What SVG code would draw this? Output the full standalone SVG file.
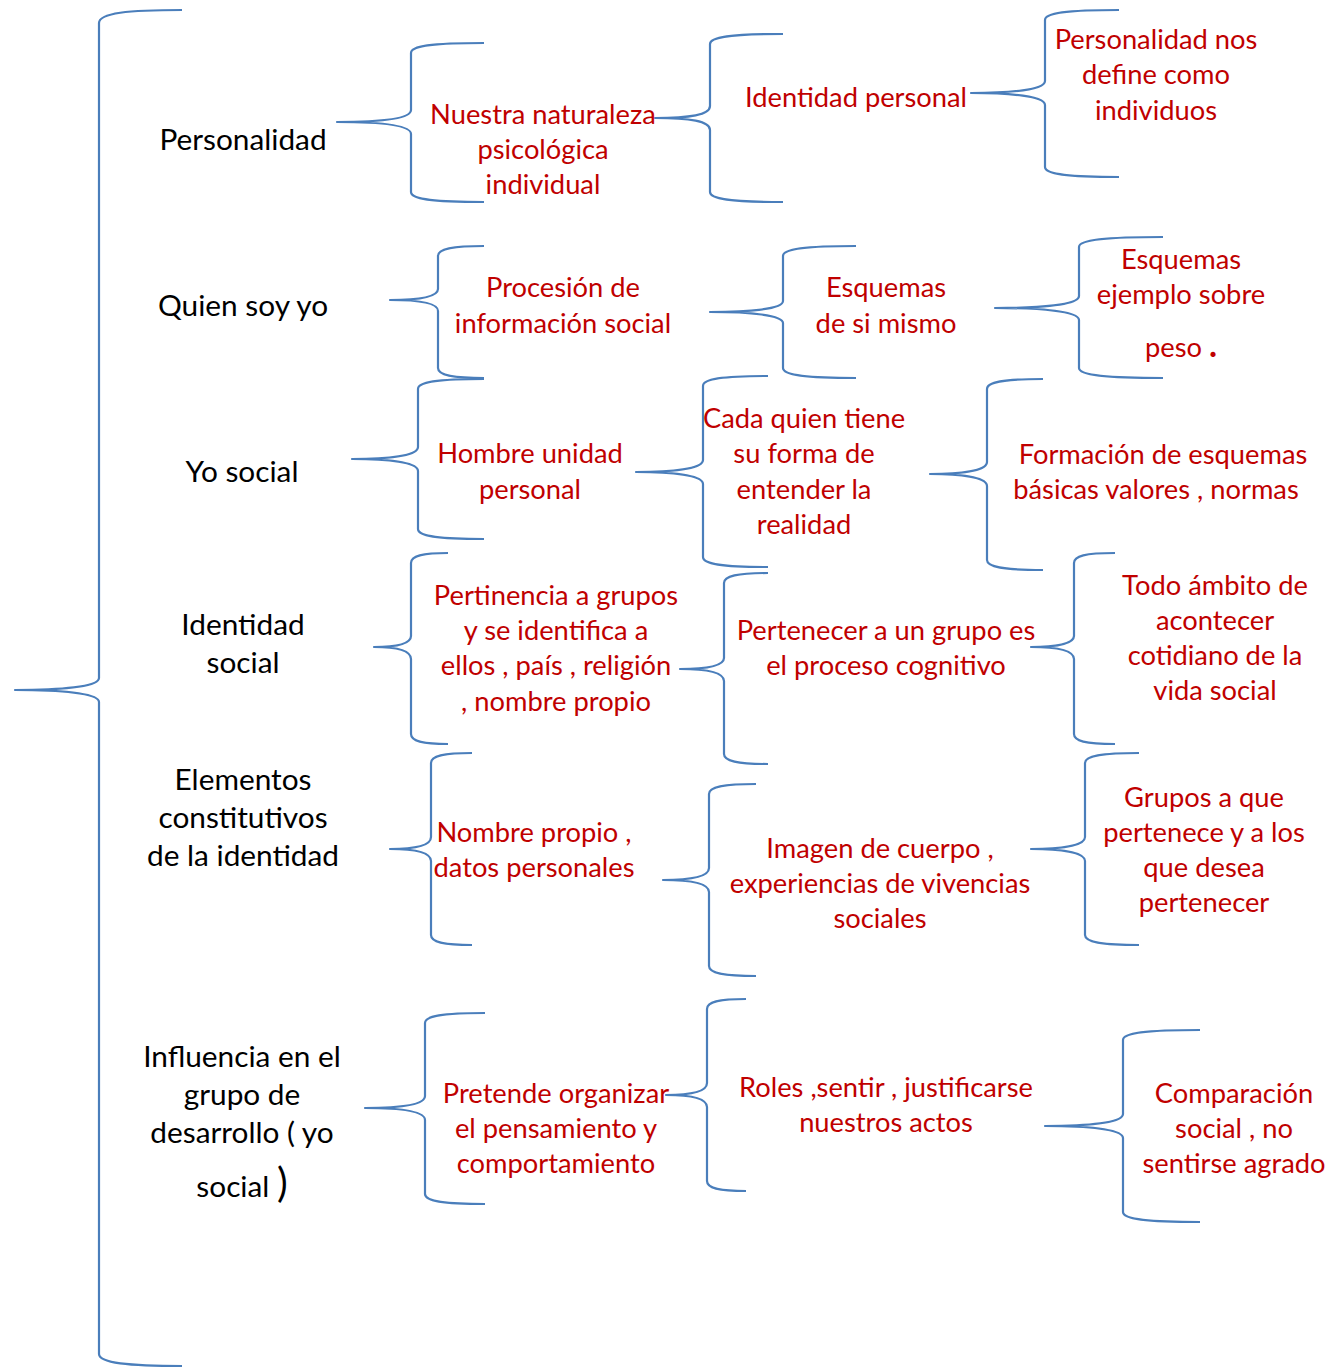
<svg xmlns="http://www.w3.org/2000/svg" width="1336" height="1368" viewBox="0 0 1336 1368">
<style>
.br{fill:none;stroke:#4A7EBB;stroke-width:2.2;stroke-linejoin:round;stroke-linecap:butt}
.k{font-family:Lato,"Open Sans","Liberation Sans",sans-serif;font-size:29.8px;fill:#000;text-anchor:middle}
.r{font-family:Lato,"Open Sans","Liberation Sans",sans-serif;font-size:27.3px;fill:#C00000;text-anchor:middle}
</style>
<rect width="1336" height="1368" fill="#fff"/>
<g id="connectors">
<path class="br" d="M182,10 C128,10 99,13 99,23 L99,678 C99,687 60,690 15,690 C60,690 99,693 99,702 L99,1354 C99,1363 128,1366 182,1366"/>
<path class="br" d="M484,43 C430,43 411,46 411,53 L411,110 C411,119 380,122 337,122 C380,122 411,125 411,134 L411,192 C411,199 430,202 484,202"/>
<path class="br" d="M783,34 C730,34 710,37 710,44 L710,106 C710,115 690,118 655,118 C690,118 710,121 710,130 L710,192 C710,199 730,202 783,202"/>
<path class="br" d="M1119,10 C1066,10 1045,13 1045,20 L1045,81 C1045,90 1010,93 971,93 C1010,93 1045,96 1045,105 L1045,167 C1045,174 1066,177 1119,177"/>
<path class="br" d="M484,246 C452,246 438,249 438,256 L438,289 C438,297 418,300 390,300 C418,300 438,303 438,311 L438,368 C438,375 452,378 484,378"/>
<path class="br" d="M856,246 C805,246 783,249 783,256 L783,301 C783,309 750,312 710,312 C750,312 783,315 783,323 L783,368 C783,375 805,378 856,378"/>
<path class="br" d="M1163,237 C1105,237 1079,240 1079,247 L1079,296 C1079,305 1040,308 995,308 C1040,308 1079,311 1079,320 L1079,368 C1079,375 1105,378 1163,378"/>
<path class="br" d="M484,379 C436,379 418,382 418,389 L418,447 C418,456 388,459 352,459 C388,459 418,462 418,471 L418,529 C418,536 436,539 484,539"/>
<path class="br" d="M768,376 C721,376 703,379 703,386 L703,460 C703,469 672,472 636,472 C672,472 703,475 703,484 L703,557 C703,564 721,567 768,567"/>
<path class="br" d="M1043,379 C1003,379 987,382 987,389 L987,462 C987,471 960,474 930,474 C960,474 987,477 987,486 L987,560 C987,567 1003,570 1043,570"/>
<path class="br" d="M448,553 C422,553 411,556 411,563 L411,636 C411,644 395,647 374,647 C395,647 411,650 411,659 L411,734 C411,741 422,744 448,744"/>
<path class="br" d="M768,573 C737,573 724,576 724,583 L724,658 C724,666 705,669 680,669 C705,669 724,672 724,681 L724,754 C724,761 737,764 768,764"/>
<path class="br" d="M1115,553 C1085,553 1074,556 1074,563 L1074,636 C1074,644 1055,647 1031,647 C1055,647 1074,650 1074,659 L1074,734 C1074,741 1085,744 1115,744"/>
<path class="br" d="M472,753 C443,753 431,756 431,763 L431,837 C431,846 413,849 390,849 C413,849 431,852 431,861 L431,935 C431,942 443,945 472,945"/>
<path class="br" d="M756,784 C723,784 709,787 709,794 L709,868 C709,877 688,880 663,880 C688,880 709,883 709,892 L709,966 C709,973 723,976 756,976"/>
<path class="br" d="M1139,753 C1101,753 1085,756 1085,763 L1085,837 C1085,846 1060,849 1031,849 C1060,849 1085,852 1085,861 L1085,935 C1085,942 1101,945 1139,945"/>
<path class="br" d="M485,1013 C442,1013 425,1016 425,1023 L425,1096 C425,1105 398,1108 365,1108 C398,1108 425,1111 425,1120 L425,1194 C425,1201 442,1204 485,1204"/>
<path class="br" d="M746,999 C718,999 707,1002 707,1009 L707,1083 C707,1092 690,1095 666,1095 C690,1095 707,1098 707,1107 L707,1181 C707,1188 718,1191 746,1191"/>
<path class="br" d="M1200,1030 C1145,1030 1123,1033 1123,1040 L1123,1114 C1123,1123 1088,1126 1045,1126 C1088,1126 1123,1129 1123,1138 L1123,1212 C1123,1219 1145,1222 1200,1222"/>
</g>
<g id="n-personalidad"><text class="k" x="243" y="150">Personalidad</text></g>
<g id="n-quien"><text class="k" x="243" y="316">Quien soy yo</text></g>
<g id="n-yosocial"><text class="k" x="242" y="482">Yo social</text></g>
<g id="n-identidadsocial"><text class="k" x="243" y="635">Identidad</text><text class="k" x="243" y="673">social</text></g>
<g id="n-elementos"><text class="k" x="243" y="790">Elementos</text><text class="k" x="243" y="828">constitutivos</text><text class="k" x="243" y="866">de la identidad</text></g>
<g id="n-influencia"><text class="k" x="242" y="1067">Influencia en el</text><text class="k" x="242" y="1105">grupo de</text><text class="k" x="242" y="1143">desarrollo ( yo</text><text class="k" x="242" y="1197">social <tspan font-size="40">)</tspan></text></g>
<g id="n-naturaleza"><text class="r" x="543" y="124">Nuestra naturaleza</text><text class="r" x="543" y="159">psicológica</text><text class="r" x="543" y="194">individual</text></g>
<g id="n-identidadpersonal"><text class="r" x="856" y="107">Identidad personal</text></g>
<g id="n-define"><text class="r" x="1156" y="49">Personalidad nos</text><text class="r" x="1156" y="84">define como</text><text class="r" x="1156" y="120">individuos</text></g>
<g id="n-procesion"><text class="r" x="563" y="297">Procesión de</text><text class="r" x="563" y="333">información social</text></g>
<g id="n-esquemas"><text class="r" x="886" y="297">Esquemas</text><text class="r" x="886" y="333">de si mismo</text></g>
<g id="n-ejemplo"><text class="r" x="1181" y="269">Esquemas</text><text class="r" x="1181" y="304">ejemplo sobre</text><text class="r" x="1181" y="357">peso <tspan font-size="34" font-weight="bold">.</tspan></text></g>
<g id="n-hombre"><text class="r" x="530" y="463">Hombre unidad</text><text class="r" x="530" y="499">personal</text></g>
<g id="n-cada"><text class="r" x="804" y="428">Cada quien tiene</text><text class="r" x="804" y="463">su forma de</text><text class="r" x="804" y="499">entender la</text><text class="r" x="804" y="534">realidad</text></g>
<g id="n-formacion"><text class="r" x="1163" y="464">Formación de esquemas</text><text class="r" x="1156" y="499">básicas valores , normas</text></g>
<g id="n-pertinencia"><text class="r" x="556" y="605">Pertinencia a grupos</text><text class="r" x="556" y="640">y se identifica a</text><text class="r" x="556" y="675">ellos , país , religión</text><text class="r" x="556" y="711">, nombre propio</text></g>
<g id="n-pertenecer"><text class="r" x="886" y="640">Pertenecer a un grupo es</text><text class="r" x="886" y="675">el proceso cognitivo</text></g>
<g id="n-todo"><text class="r" x="1215" y="595">Todo ámbito de</text><text class="r" x="1215" y="630">acontecer</text><text class="r" x="1215" y="665">cotidiano de la</text><text class="r" x="1215" y="700">vida social</text></g>
<g id="n-nombre"><text class="r" x="534" y="842">Nombre propio ,</text><text class="r" x="534" y="877">datos personales</text></g>
<g id="n-imagen"><text class="r" x="880" y="858">Imagen de cuerpo ,</text><text class="r" x="880" y="893">experiencias de vivencias</text><text class="r" x="880" y="928">sociales</text></g>
<g id="n-grupos"><text class="r" x="1204" y="807">Grupos a que</text><text class="r" x="1204" y="842">pertenece y a los</text><text class="r" x="1204" y="877">que desea</text><text class="r" x="1204" y="912">pertenecer</text></g>
<g id="n-pretende"><text class="r" x="556" y="1103">Pretende organizar</text><text class="r" x="556" y="1138">el pensamiento y</text><text class="r" x="556" y="1173">comportamiento</text></g>
<g id="n-roles"><text class="r" x="886" y="1097">Roles ,sentir , justificarse</text><text class="r" x="886" y="1132">nuestros actos</text></g>
<g id="n-comparacion"><text class="r" x="1234" y="1103">Comparación</text><text class="r" x="1234" y="1138">social , no</text><text class="r" x="1234" y="1173">sentirse agrado</text></g>
</svg>
